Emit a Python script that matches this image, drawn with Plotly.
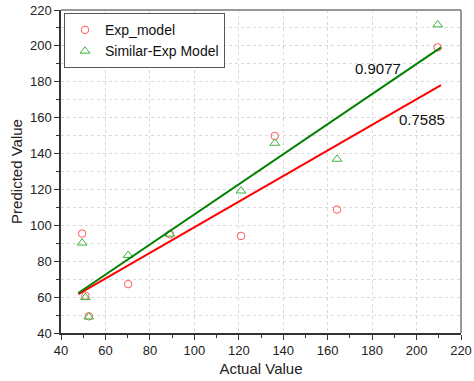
import plotly.graph_objects as go

actual = [49.5, 51, 52.5, 70.2, 89, 121, 136.2, 164.2, 209.5]
exp_model = [95.4, 60.8, 49.3, 67.2, 95.0, 94.1, 149.8, 108.8, 199.2]
similar_exp = [90.2, 59.8, 49.0, 83.3, 95.2, 119.2, 145.8, 136.9, 211.8]

fit_x = [47.8, 211]
fit_exp = [61.6, 178.1]
fit_similar = [62.3, 199.2]

r2_labels = ["0.9077", "0.7585"]
r2_x = [182.7, 202.3]
r2_y = [187.6, 159.2]

FONT = "Arial, Liberation Sans, sans-serif"

fig = go.Figure()
fig.add_trace(go.Scatter(x=actual, y=exp_model, mode="markers", name="Exp_model",
                         marker=dict(symbol="circle-open", size=7.5, color="#ff5a5a", line=dict(width=1))))
fig.add_trace(go.Scatter(x=actual, y=similar_exp, mode="markers", name="Similar-Exp Model",
                         marker=dict(symbol="triangle-up-open", size=8.5, color="#3cb33c", line=dict(width=1))))
fig.add_trace(go.Scatter(x=fit_x, y=fit_exp, mode="lines", showlegend=False,
                         line=dict(color="#ff0000", width=2)))
fig.add_trace(go.Scatter(x=fit_x, y=fit_similar, mode="lines", showlegend=False,
                         line=dict(color="#008000", width=2)))

for t, x, y in zip(r2_labels, r2_x, r2_y):
    fig.add_annotation(x=x, y=y, text=t, showarrow=False,
                       font=dict(family=FONT, size=15, color="#111"))

axis_common = dict(
    showline=True, linecolor="#333", linewidth=1.5, mirror=False,
    ticks="outside", ticklen=5, tickwidth=1, tickcolor="#333",
    tickfont=dict(family=FONT, size=13, color="#222"),
    gridcolor="#d9d9d9", griddash="3px,3px", gridwidth=1,
    zeroline=False, automargin=False,
)

fig.update_xaxes(range=[40, 220], dtick=20, tick0=40,
                 title=dict(text="Actual Value", font=dict(family=FONT, size=15, color="#222"), standoff=6),
                 minor=dict(ticks="outside", ticklen=3, dtick=10, tickcolor="#333", showgrid=False),
                 **axis_common)
fig.update_yaxes(range=[40, 220], dtick=20, tick0=40,
                 title=dict(text="Predicted Value", font=dict(family=FONT, size=15, color="#222"), standoff=4),
                 minor=dict(ticks="outside", ticklen=3, dtick=10, tickcolor="#333",
                            showgrid=True, gridcolor="#d9d9d9", griddash="3px,3px"),
                 **axis_common)

fig.add_shape(type="line", xref="paper", yref="paper", x0=0, x1=1, y0=1, y1=1,
              line=dict(color="#777", width=1.5))
fig.add_shape(type="line", xref="paper", yref="paper", x0=1, x1=1, y0=0, y1=1,
              line=dict(color="#777", width=1.5))

fig.update_layout(
    width=474, height=381,
    margin=dict(l=61, r=13, t=10, b=48),
    plot_bgcolor="white", paper_bgcolor="white",
    font=dict(family=FONT, color="#222"),
    legend=dict(x=0.0075, y=0.99, xanchor="left", yanchor="top",
                bgcolor="white", bordercolor="#555", borderwidth=1,
                font=dict(family=FONT, size=14, color="#111"),
                tracegroupgap=0),
    showlegend=True,
)

fig.write_html("out.html",
               config={"displayModeBar": False},
               post_script="document.body.style.margin='0';document.body.style.overflow='hidden';")
